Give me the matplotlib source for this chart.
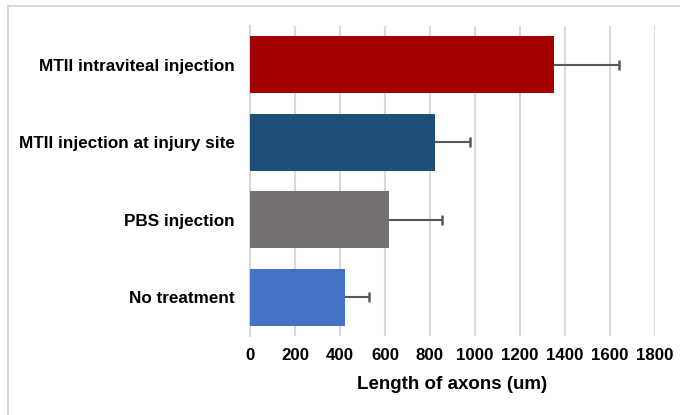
import numpy as np
import matplotlib.pyplot as plt
from matplotlib.patches import Rectangle

plt.rcParams['font.family'] = ['Liberation Sans', 'DejaVu Sans']

categories = ["No treatment", "PBS injection", "MTII injection at injury site", "MTII intraviteal injection"]
lengths = np.array([422, 620, 822, 1350])
errors = np.array([107, 232, 158, 290])
colors = ["#4472C4", "#767171", "#1F4E79", "#A50000"]
ticks = np.arange(0, 1801, 200)

fig = plt.figure(figsize=(6.8, 4.15), dpi=100)
ax = fig.add_axes([0.3676, 0.1904, 0.5956, 0.747])

# outer frame like the office chart border
fig.patches.append(Rectangle((8/680, -0.1), 1.2, 1 - 6/415 + 0.1, transform=fig.transFigure,
                             fill=False, edgecolor="#D9D9D9", linewidth=1.5))

y = np.arange(len(categories))
ax.barh(y, lengths, height=0.735, color=colors, zorder=3)
# error bars: only the upper side, cap at the end
ax.errorbar(lengths, y, xerr=[np.zeros(len(errors)), errors], fmt="none",
            ecolor="#595959", elinewidth=1.5, capsize=0, zorder=4)
ax.plot(lengths + errors, y, linestyle="none", marker="|", markersize=7,
        markeredgewidth=1.8, color="#595959", zorder=4)

ax.set_xlim(0, 1800)
ax.set_ylim(-0.5, 3.5)
ax.set_xticks(ticks)
ax.set_xticklabels([str(t) for t in ticks], fontsize=12.2, fontweight="bold")
ax.set_yticks(y)
ax.set_yticklabels(categories, fontsize=12.3, fontweight="bold")
ax.tick_params(axis="y", length=0, pad=11)
ax.tick_params(axis="x", length=0, pad=9)
ax.grid(axis="x", color="#D9D9D9", linewidth=1.5, zorder=0)
for s in ["top", "right", "bottom"]:
    ax.spines[s].set_visible(False)
ax.spines["left"].set_color("#D9D9D9")
ax.spines["left"].set_linewidth(1.5)
ax.set_xlabel("Length of axons (um)", fontsize=13.5, fontweight="bold", labelpad=9)

fig.savefig("out.png", dpi=100)
